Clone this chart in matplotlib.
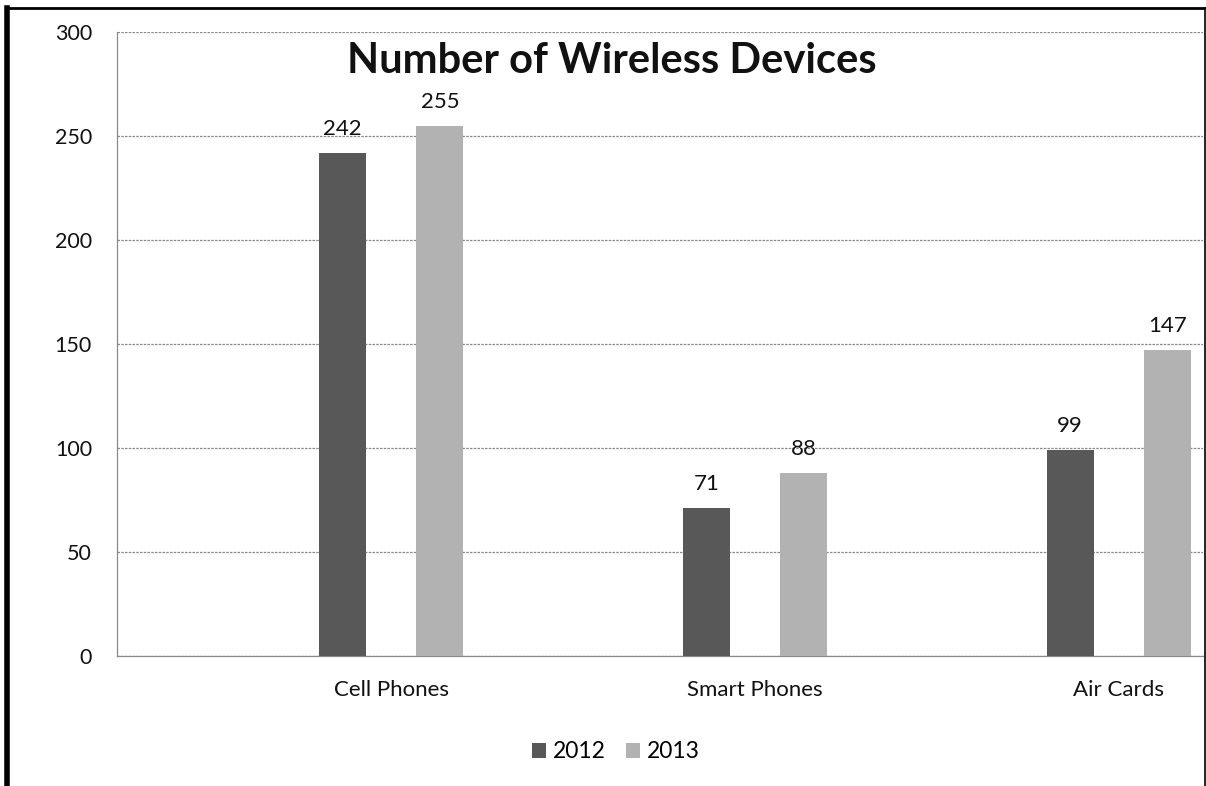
import matplotlib
matplotlib.use("Agg")
import matplotlib.pyplot as plt
import numpy as np
from matplotlib.lines import Line2D

categories = ["Cell Phones", "Smart Phones", "Air Cards"]
series_names = ["2012", "2013"]
values_2012 = [242, 71, 99]
values_2013 = [255, 88, 147]
yticks = [0, 50, 100, 150, 200, 250, 300]

colors = ["#585858", "#b2b2b2"]
plt.rcParams['font.family'] = ['Lato', 'DejaVu Sans']

W, H = 1206, 786
fig = plt.figure(figsize=(W/100, H/100), dpi=100)
fig.patch.set_facecolor("white")

left, right, top, bottom = 117, 1203, 32, 656
ax = fig.add_axes([left/W, 1-bottom/H, (right-left)/W, (bottom-top)/H])

x = np.arange(len(categories))
bw = 0.129
off = 0.134
b1 = ax.bar(x - off, values_2012, bw, color=colors[0], label=series_names[0], zorder=3)
b2 = ax.bar(x + off, values_2013, bw, color=colors[1], label=series_names[1], zorder=3)
for bars in (b1, b2):
    for r in bars:
        ax.annotate(f"{int(r.get_height())}", (r.get_x()+r.get_width()/2, r.get_height()),
                    xytext=(0, 10), textcoords="offset points", ha="center", va="bottom",
                    fontsize=16, color="#111111")

ax.set_xlim(-0.753, 2.231)
ax.set_ylim(0, 300)
ax.set_yticks(yticks)
ax.set_yticklabels([str(v) for v in yticks], fontsize=15.5, color="#111111")
ax.set_xticks(x)
ax.set_xticklabels(categories, fontsize=16, color="#111111")
ax.tick_params(axis="both", length=0)
ax.tick_params(axis="y", pad=18)
ax.tick_params(axis="x", pad=17)
ax.grid(axis="y", color="#8a8a8a", linewidth=0.9, linestyle=(0, (2, 1)), zorder=0)
ax.spines["left"].set_color("#8a8a8a")
ax.spines["left"].set_linewidth(0.9)
ax.spines["left"].set_linestyle((0, (2, 1)))
ax.spines["bottom"].set_color("#8a8a8a")
ax.spines["bottom"].set_linewidth(0.9)
ax.spines["top"].set_visible(False)
ax.spines["right"].set_visible(False)

fig.text(612/W, 1-61/H, "Number of Wireless Devices", ha="center", va="center",
         fontsize=30, fontweight="bold", color="#111111")

leg = fig.legend(handles=[b1, b2], labels=series_names, loc="center",
                 bbox_to_anchor=(616/W, 1-752/H), ncol=2, frameon=False,
                 fontsize=16.5, handlelength=0.6, handleheight=0.6, handletextpad=0.3,
                 columnspacing=0.9)

# page border
fig.add_artist(Line2D([7/W, 7/W], [0, 1-8/H], color="black", linewidth=4, transform=fig.transFigure))
fig.add_artist(Line2D([7/W, 1205/W], [1-8/H, 1-8/H], color="black", linewidth=2, transform=fig.transFigure))
fig.add_artist(Line2D([1205/W, 1205/W], [1-8/H, 0], color="black", linewidth=1.2, transform=fig.transFigure))

fig.savefig("out.png", dpi=100)
